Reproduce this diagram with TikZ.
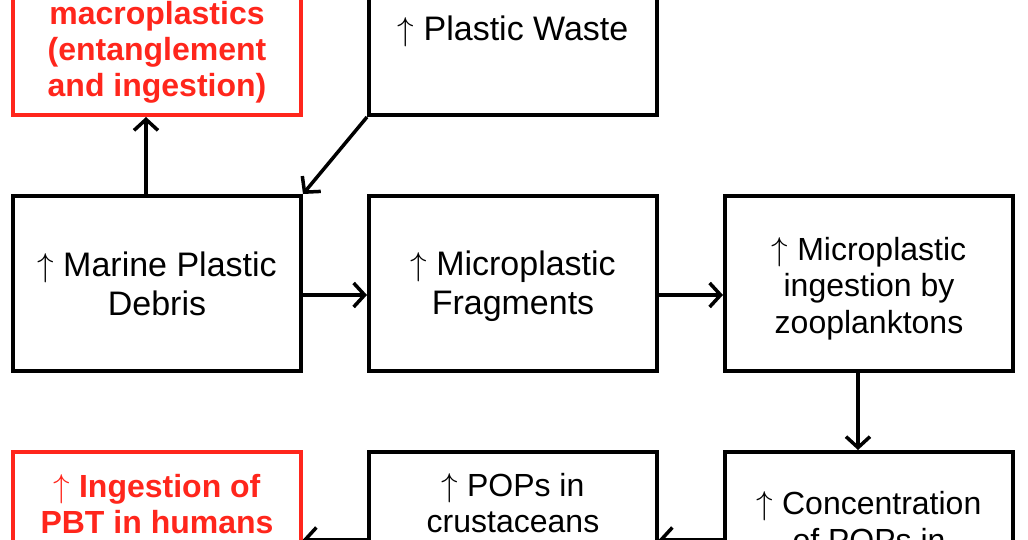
\documentclass[tikz,border=0pt]{standalone}
\usepackage{fontspec}
\setmainfont{Liberation Sans}
\usetikzlibrary{arrows.meta}

\definecolor{alertred}{RGB}{255,38,28}
% up arrow and extra line height
\newcommand\up{\scalebox{1.33}{$\uparrow$}}
\newcommand\padline[1]{\rule{0pt}{#1}}

\begin{document}
\begin{tikzpicture}[x=1pt,y=-1pt,
    box/.style={draw=black,line width=4pt,minimum width=288pt,minimum height=175pt,
        align=center,inner sep=0pt},
    redbox/.style={box,draw=alertred,text=alertred,font=\fontsize{32}{36}\selectfont\bfseries},
    big/.style={font=\fontsize{34}{39}\selectfont},
    small/.style={font=\fontsize{32}{36.5}\selectfont},
    link/.style={line width=3.5pt,-{Straight Barb[length=11pt,width=24pt,line width=3.5pt]}}]
    \clip (0,0) rectangle (1028,539);

    % top row
    \node[redbox] (risk) at (157,27.5)
        {\padline{36pt}\\macroplastics\\(entanglement\\and ingestion)};
    \node[box,big] (waste) at (513,27.5) {\padline{33pt}\up\ Plastic Waste};

    % middle row
    \node[box,big] (debris) at (157,283.5) {\up\ Marine Plastic\\Debris};
    \node[box,big] (frag) at (513,283.5) {\padline{30pt}\up\ Microplastic\\Fragments};
    \node[box,small] (zoo) at (869,283.5)
        {\padline{33pt}\up\ Microplastic\\ingestion by\\zooplanktons};

    % bottom row
    \node[redbox] (human) at (157,539.5)
        {\up\ Ingestion of\\PBT in humans\\~\\~};
    \node[box,small] (crust) at (513,539.5) {\up\ POPs in\\crustaceans\\~\\~};
    \node[box,small] (conc) at (869,539.5) {\up\ Concentration\\of POPs in\\~};

    % arrows
    \draw[link] (waste.south west) -- (debris.north east);
    \draw[link] ([xshift=-11pt]debris.north) -- ([xshift=-11pt]risk.south);
    \draw[link] ([yshift=-11.5pt]debris.east) -- ([yshift=-11.5pt]frag.west);
    \draw[link] ([yshift=-11.5pt]frag.east) -- ([yshift=-11.5pt]zoo.west);
    \draw[link] ([xshift=-11pt]zoo.south) -- ([xshift=-11pt]conc.north);
    \draw[link] (conc.west) -- (crust.east);
    \draw[link] (crust.west) -- (human.east);
\end{tikzpicture}
\end{document}
